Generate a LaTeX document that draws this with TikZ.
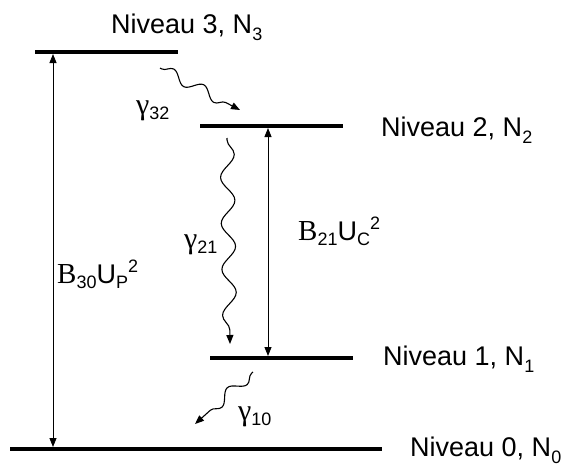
\documentclass[tikz,border=0pt]{standalone}
\usepackage{fontspec}
\usepackage{graphicx}
\setmainfont{Liberation Sans}
\newfontfamily\seriffam{Liberation Serif}
\usetikzlibrary{arrows.meta,decorations.pathmorphing}
\newcommand\lo[1]{\raisebox{-7pt}{\fontsize{18}{18}\selectfont #1}}
\newcommand\slo[1]{\raisebox{-5pt}{\fontsize{18}{18}\selectfont #1}}
\newcommand\hi[1]{\raisebox{11pt}{\fontsize{18}{18}\selectfont #1}}
\newcommand\gam{{\seriffam\fontsize{30}{30}\selectfont γ}}
\newcommand\bee{{\seriffam\fontsize{29}{29}\selectfont B}}
\begin{document}
\begin{tikzpicture}[x=1pt,y=-1pt,
  level/.style={line width=4.5pt},
  trans/.style={line width=0.9pt,{Triangle[length=9pt,width=7pt]}-{Triangle[length=9pt,width=7pt]}},
  wave/.style={line width=1.1pt,-{Triangle[length=9pt,width=7pt]},decorate,
    decoration={snake,amplitude=#1,segment length=34pt,pre length=2pt,post length=9pt}},
  wave/.default=5.5pt,
  lbl/.style={font=\fontsize{27}{30}\selectfont,anchor=base west,inner sep=0pt},
  glbl/.style={font=\fontsize{27}{30}\selectfont,anchor=base west,inner sep=0pt},
]
\useasboundingbox (0,0) rectangle (567,466);
% levels
\coordinate (l3a) at (35,52);  \coordinate (l3b) at (178,52);
\coordinate (l2a) at (200,126); \coordinate (l2b) at (343,126);
\coordinate (l1a) at (210,358); \coordinate (l1b) at (353,358);
\coordinate (l0a) at (10,449);  \coordinate (l0b) at (382,449);
\draw[level] (l3a) -- (l3b);
\draw[level] (l2a) -- (l2b);
\draw[level] (l1a) -- (l1b);
\draw[level] (l0a) -- (l0b);
% level labels
\node[lbl] (n3) at (111,33) {Niveau 3, N\lo{3}};
\node[lbl] (n2) at (381,136) {Niveau 2, N\lo{2}};
\node[lbl] (n1) at (383,365) {Niveau 1, N\lo{1}};
\node[lbl] (n0) at (410,456) {Niveau 0, N\lo{0}};
% pump and coupling transitions
\coordinate (p3) at (53,54); \coordinate (p0) at (53,447);
\draw[trans] (p0) -- (p3);
\coordinate (c2) at (268,128); \coordinate (c1) at (268,356);
\draw[trans] (c1) -- (c2);
\node[glbl] (b30) at (57,283) {\bee\slo{30}U\slo{P}\hi{2}};
\node[glbl] (b21) at (298,240) {\bee\slo{21}U\slo{C}\hi{2}};
% relaxation waves
\coordinate (w3s) at (160,68);  \coordinate (w3e) at (240,110);
\coordinate (w2s) at (227,138); \coordinate (w2e) at (230,344);
\coordinate (w1s) at (253,372); \coordinate (w1e) at (195,424);
\draw[wave] (w3s) -- (w3e);
\draw[wave=7pt,decoration={segment length=46pt}] (w2s) -- (w2e);
\draw[wave] (w1s) -- (w1e);
\node[glbl] (g32) at (136,114) {\gam\slo{32}};
\node[glbl] (g21) at (184,248) {\gam\slo{21}};
\node[glbl] (g10) at (238,420) {\gam\slo{10}};
\end{tikzpicture}
\end{document}
